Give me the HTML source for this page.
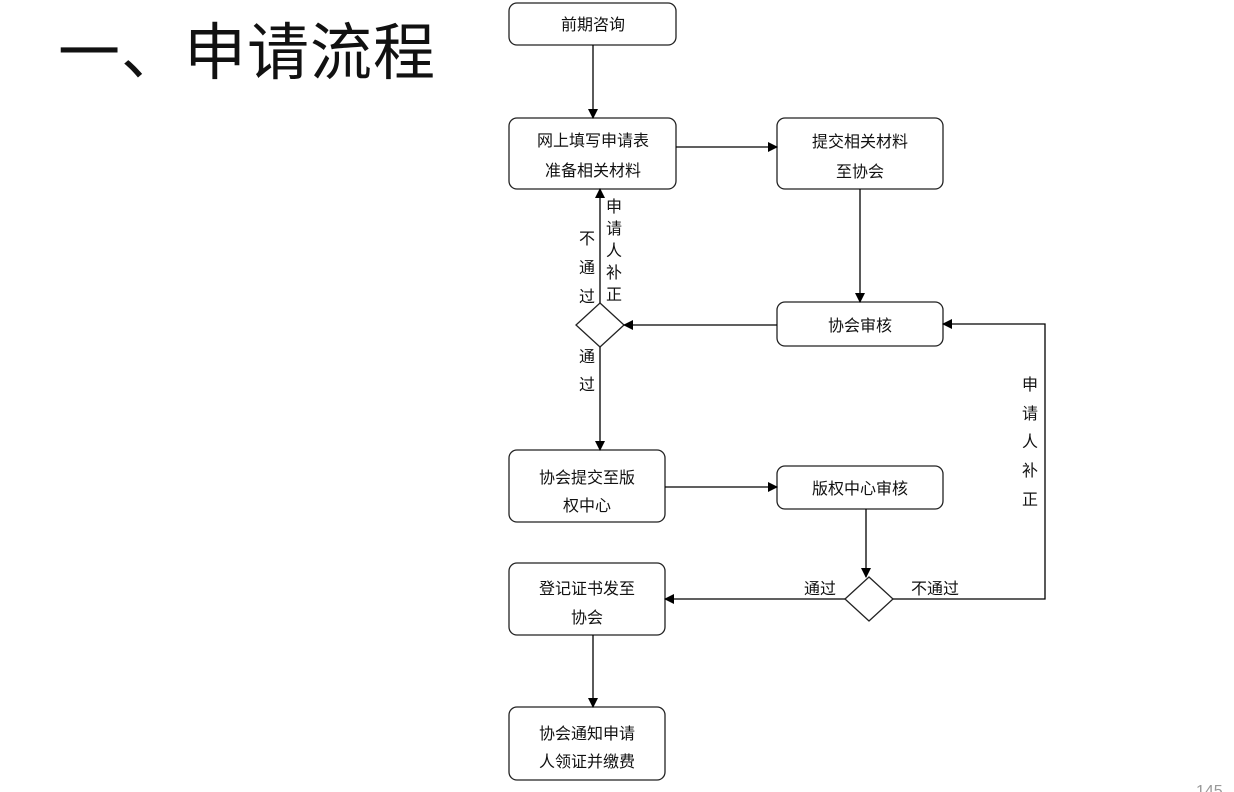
<!DOCTYPE html>
<html><head><meta charset="utf-8"><style>
body{margin:0;width:1234px;height:792px;background:#fff;overflow:hidden;position:relative;font-family:"Liberation Sans","Noto Sans CJK SC",sans-serif}
.t{position:absolute;left:58px;top:2px;font-size:62px;color:#111;letter-spacing:1px}
svg{position:absolute;left:0;top:0}
svg text{font-family:"Liberation Sans","Noto Sans CJK SC",sans-serif;font-size:16px;fill:#111}
</style></head><body>
<div class="t">一、申请流程</div>
<svg width="1234" height="792">
<defs><marker id="a" markerWidth="10" markerHeight="10" refX="9" refY="5" orient="auto" markerUnits="userSpaceOnUse"><path d="M0,0 L10,5 L0,10 z" fill="#000"/></marker></defs>
<g fill="#fff" stroke="#222" stroke-width="1.3">
<rect x="509" y="3" width="167" height="42" rx="8"/>
<rect x="509" y="118" width="167" height="71" rx="8"/>
<rect x="777" y="118" width="166" height="71" rx="8"/>
<rect x="777" y="302" width="166" height="44" rx="8"/>
<rect x="509" y="450" width="156" height="72" rx="8"/>
<rect x="777" y="466" width="166" height="43" rx="8"/>
<rect x="509" y="563" width="156" height="72" rx="8"/>
<rect x="509" y="707" width="156" height="73" rx="8"/>
<path d="M600,303 L624,325 L600,347 L576,325 Z"/>
<path d="M869,577 L893,599 L869,621 L845,599 Z"/>
</g>
<g stroke="#000" stroke-width="1.3" fill="none">
<line x1="593" y1="45" x2="593" y2="118" marker-end="url(#a)"/>
<line x1="676" y1="147" x2="777" y2="147" marker-end="url(#a)"/>
<line x1="860" y1="189" x2="860" y2="302" marker-end="url(#a)"/>
<line x1="777" y1="325" x2="624" y2="325" marker-end="url(#a)"/>
<line x1="600" y1="303" x2="600" y2="189" marker-end="url(#a)"/>
<line x1="600" y1="347" x2="600" y2="450" marker-end="url(#a)"/>
<line x1="665" y1="487" x2="777" y2="487" marker-end="url(#a)"/>
<line x1="866" y1="509" x2="866" y2="577" marker-end="url(#a)"/>
<line x1="845" y1="599" x2="665" y2="599" marker-end="url(#a)"/>
<polyline points="893,599 1045,599 1045,324 943,324" marker-end="url(#a)"/>
<line x1="593" y1="635" x2="593" y2="707" marker-end="url(#a)"/>
</g>
<g text-anchor="middle">
<text x="593" y="30">前期咨询</text>
<text x="593" y="146" font-size="15">网上填写申请表</text>
<text x="593" y="176" font-size="15">准备相关材料</text>
<text x="860" y="147">提交相关材料</text>
<text x="860" y="177">至协会</text>
<text x="860" y="331">协会审核</text>
<text x="587" y="483">协会提交至版</text>
<text x="587" y="511">权中心</text>
<text x="860" y="494">版权中心审核</text>
<text x="587" y="594">登记证书发至</text>
<text x="587" y="623">协会</text>
<text x="587" y="739">协会通知申请</text>
<text x="587" y="767">人领证并缴费</text>
<text x="587" y="244">不</text><text x="587" y="273">通</text><text x="587" y="302">过</text>
<text x="614" y="212">申</text><text x="614" y="234">请</text><text x="614" y="256">人</text><text x="614" y="278">补</text><text x="614" y="300">正</text>
<text x="587" y="362">通</text><text x="587" y="390">过</text>
<text x="1030" y="390">申</text><text x="1030" y="419">请</text><text x="1030" y="447">人</text><text x="1030" y="476">补</text><text x="1030" y="505">正</text>
<text x="820" y="594">通过</text>
<text x="935" y="594">不通过</text>
</g>
<text x="1196" y="796" font-size="13" style="fill:#999">145</text>
</svg>
</body></html>
